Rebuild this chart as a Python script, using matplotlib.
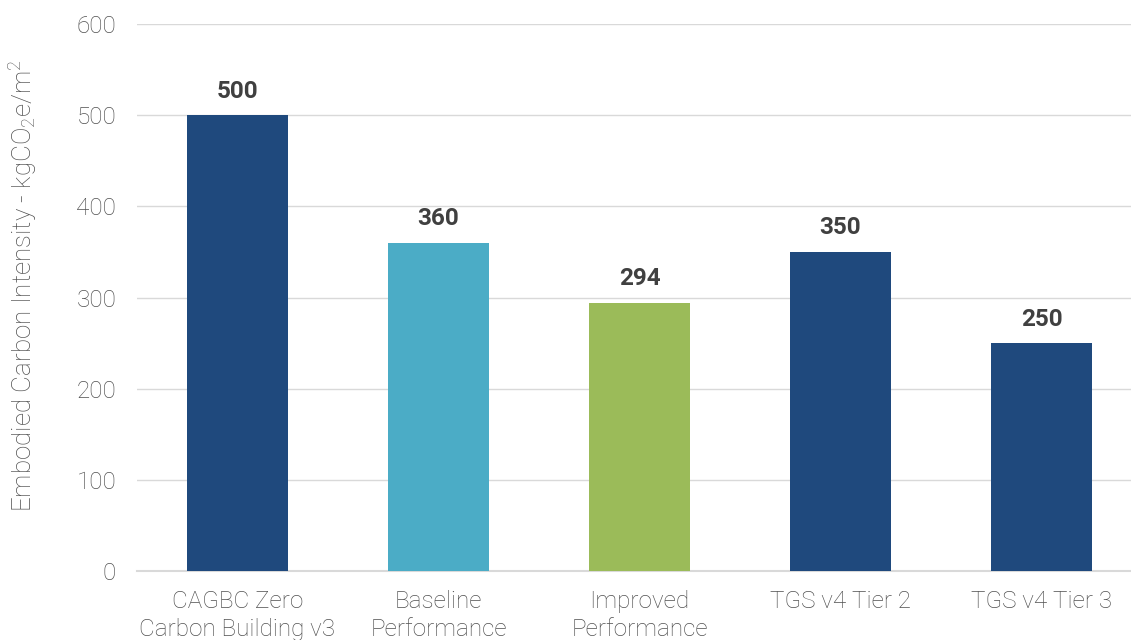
import matplotlib
matplotlib.use("Agg")
import matplotlib.pyplot as plt
import numpy as np

plt.rcParams['font.family'] = ['Roboto', 'DejaVu Sans']
plt.rcParams['mathtext.fontset'] = 'custom'
plt.rcParams['mathtext.rm'] = 'Roboto:light'
plt.rcParams['mathtext.default'] = 'regular'

categories = ['CAGBC Zero\nCarbon Building v3', 'Baseline\nPerformance',
              'Improved\nPerformance', 'TGS v4 Tier 2', 'TGS v4 Tier 3']
values = [500, 360, 294, 350, 250]
colors = ['#1F497D', '#4BACC6', '#9BBB59', '#1F497D', '#1F497D']
yticks = [0, 100, 200, 300, 400, 500, 600]

txt = '#505050'

fig = plt.figure(figsize=(11.31, 6.4), dpi=100)
ax = fig.add_axes([0.1211, 0.1078, 0.8886, 0.8547])

x = np.arange(len(categories))
bars = ax.bar(x, values, width=0.5, color=colors, zorder=3)

for b, v in zip(bars, values):
    ax.annotate(str(v), (b.get_x() + b.get_width() / 2, v), xytext=(0, 9),
                textcoords='offset points', ha='center', va='bottom',
                fontsize=17.5, fontweight='bold', color='#404040')

ax.set_xlim(-0.5, len(categories) - 0.5)
ax.set_ylim(0, 600)
ax.set_yticks(yticks)
ax.set_xticks(x)
ax.set_xticklabels(categories, fontsize=17.5, fontweight='light', color=txt,
                   linespacing=1.25)
ax.tick_params(axis='y', labelsize=17.5, labelcolor=txt, length=0, pad=15)
ax.tick_params(axis='x', length=0, pad=14)
for lbl in ax.get_yticklabels():
    lbl.set_fontweight('light')

ax.grid(axis='y', color='#D9D9D9', linewidth=1, zorder=0)
for s in ['top', 'right', 'left']:
    ax.spines[s].set_visible(False)
ax.spines['bottom'].set_color('#D9D9D9')
ax.spines['bottom'].set_linewidth(1.5)

ax.set_ylabel('Embodied Carbon Intensity - kgCO$_2$e/m$^2$', fontsize=18.7,
              fontweight='light', color=txt)
ax.yaxis.set_label_coords(-0.097, 0.522)

fig.savefig('out.png', dpi=100)
